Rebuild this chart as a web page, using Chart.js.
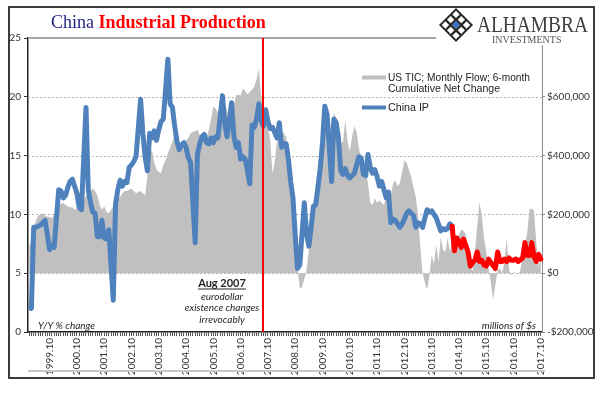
<!DOCTYPE html>
<html>
<head>
<meta charset="utf-8">
<script src="https://cdn.jsdelivr.net/npm/chart.js@4.4.1/dist/chart.umd.min.js"></script>
<style>
  html, body { margin: 0; padding: 0; background: #fff; }
  #wrap { width: 600px; height: 394px; }
</style>
</head>
<body>
<div id="wrap"><canvas id="myChart" width="600" height="394"></canvas></div>
<script>
// categories: monthly, 1999.01 .. 2017.10
const years = [1999, 2000, 2001, 2002, 2003, 2004, 2005, 2006, 2007, 2008, 2009, 2010, 2011, 2012, 2013, 2014, 2015, 2016, 2017];
const months = ['01', '02', '03', '04', '05', '06', '07', '08', '09', '10', '11', '12'];
const lastLabel = '2017.10';
const redFrom = '2014.07';   // China IP drawn in red from here on
const vlineAt = '2007.08';   // "Aug 2007" marker

// China industrial production, Y/Y % (left axis)
const chinaIP = [
  null, 2.0, 8.9, 8.9, 9.0, 9.1, 9.3, 9.5, 8.3, 7.0, 7.4, 7.2,
  null, 12.1, 12.0, 11.4, 11.6, 12.3, 12.8, 13.0, 12.4, 11.8, 10.6, 10.4,
  null, 19.1, 12.1, 11.0, 10.2, 10.1, 8.1, 8.1, 9.5, 8.0, 7.9, 8.7,
  null, 2.7, 10.9, 12.1, 12.9, 12.4, 12.8, 12.7, 14.0, 14.2, 14.5, 14.9,
  null, 19.8, 16.9, 14.9, 13.7, 16.9, 16.5, 17.1, 16.3, 17.2, 17.9, 18.1,
  null, 23.2, 19.4, 19.1, 17.5, 16.2, 15.5, 15.9, 16.1, 15.7, 14.8, 14.4,
  null, 7.6, 15.1, 16.0, 16.6, 16.8, 16.1, 16.0, 16.5, 16.1, 16.6, 16.5,
  null, 20.1, 17.8, 16.6, 17.9, 19.5, 16.7, 15.7, 16.1, 14.7, 14.9, 14.7,
  null, 12.6, 17.6, 17.4, 18.1, 19.4, 18.0, 17.5, 18.9, 17.9, 17.3, 17.4,
  null, 16.5, 17.8, 15.7, 16.0, 16.0, 14.7, 12.8, 11.4, 8.2, 5.4, 5.7,
  null, 11.0, 8.3, 7.3, 8.9, 10.7, 10.8, 12.3, 13.9, 16.1, 19.2, 18.5,
  null, 12.8, 18.1, 17.8, 16.5, 13.7, 13.4, 13.9, 13.3, 13.1, 13.3, 13.5,
  null, 14.9, 14.8, 13.4, 13.3, 15.1, 14.0, 13.5, 13.8, 13.2, 12.4, 12.8,
  null, 11.4, 11.9, 9.3, 9.6, 9.5, 9.2, 8.9, 9.2, 9.6, 10.1, 10.3,
  null, 9.9, 8.9, 9.3, 9.2, 8.9, 9.7, 10.4, 10.2, 10.3, 10.0, 9.7,
  null, 8.6, 8.8, 8.7, 8.8, 9.2, 9.0, 6.9, 8.0, 7.7, 7.2, 7.9,
  null, 6.8, 5.6, 5.9, 6.1, 6.8, 6.0, 6.1, 5.7, 5.6, 6.2, 5.9,
  null, 5.4, 6.8, 6.0, 6.0, 6.2, 6.0, 6.3, 6.1, 6.1, 6.2, 6.0,
  null, 6.3, 7.6, 6.5, 6.5, 7.6, 6.4, 6.0, 6.6, 6.2
];

// US TIC, monthly flow, 6-month cumulative net change, millions of $ (right axis)
const usTIC = [
  92000, 112000, 152000, 180000, 196000, 200000, 204000, 196000, 192000, 192000, 188000, 200000,
  216000, 228000, 236000, 240000, 232000, 228000, 224000, 224000, 216000, 220000, 216000, 224000,
  248000, 264000, 272000, 280000, 288000, 280000, 264000, 232000, 216000, 228000, 208000, 204000,
  216000, 228000, 240000, 252000, 260000, 272000, 280000, 280000, 284000, 288000, 280000, 272000,
  276000, 280000, 272000, 264000, 332000, 400000, 420000, 376000, 352000, 344000, 340000, 368000,
  384000, 408000, 428000, 448000, 468000, 456000, 432000, 420000, 440000, 452000, 460000, 476000,
  480000, 484000, 488000, 472000, 464000, 456000, 464000, 488000, 524000, 568000, 560000, 544000,
  572000, 580000, 576000, 552000, 520000, 516000, 568000, 604000, 608000, 604000, 628000, 620000,
  608000, 616000, 624000, 636000, 660000, 696000, 600000, 568000, 528000, 500000, 452000, 340000,
  380000, 452000, 476000, 484000, 476000, 464000, 400000, 340000, 240000, 120000, 20000, -52000,
  -48000, -20000, 12000, 80000, 160000, 232000, 300000, 360000, 416000, 472000, 500000, 512000,
  480000, 512000, 544000, 528000, 472000, 440000, 448000, 520000, 448000, 412000, 464000, 500000,
  480000, 424000, 396000, 376000, 352000, 304000, 240000, 232000, 256000, 240000, 248000, 240000,
  232000, 260000, 272000, 264000, 304000, 316000, 296000, 308000, 344000, 384000, 376000, 352000,
  328000, 292000, 260000, 200000, 88000, 0, -32000, -56000, -8000, 60000, 32000, 96000,
  40000, 124000, 80000, 72000, 120000, 72000, 124000, 116000, 104000, 132000, 148000, 144000,
  132000, 60000, 20000, 8000, 72000, 160000, 240000, 200000, 120000, 72000, 12000, -32000,
  -92000, -40000, 8000, 16000, 0, 40000, 120000, 12000, -8000, 4000, 0, -4000,
  12000, 60000, 100000, 136000, 216000, 220000, 212000, 100000, 24000, 48000
];

const leftTicks = [0, 5, 10, 15, 20, 25];
const rightTicks = [-200000, 0, 200000, 400000, 600000, 800000];

function myLoadFunction() {
  const labels = [];
  years.forEach(y => months.forEach(m => labels.push(y + '.' + m)));
  labels.length = labels.indexOf(lastLabel) + 1;

  const splitAt = labels.indexOf(redFrom);
  const blueIP = chinaIP.map((v, i) => i <= splitAt ? v : null);
  const redIP = chinaIP.map((v, i) => i >= splitAt ? v : null);

  Chart.defaults.font.family = 'Lato, "Liberation Sans", sans-serif';
  Chart.defaults.font.size = 10;
  Chart.defaults.color = '#333';

  const money = v => (v < 0 ? '-$' : '$') + Math.abs(v).toLocaleString('en-US');

  const extras = {
    id: 'extras',
    beforeDatasetsDraw(chart) {
      const ctx = chart.ctx, a = chart.chartArea, y = chart.scales.y;
      ctx.save();
      ctx.strokeStyle = '#b4b4b4';
      ctx.lineWidth = 1;
      ctx.setLineDash([2, 2]);
      leftTicks.filter(t => t > 0 && t < 25).forEach(t => {
        const py = Math.round(y.getPixelForValue(t)) + 0.5;
        ctx.beginPath(); ctx.moveTo(a.left, py); ctx.lineTo(a.right, py); ctx.stroke();
      });
      ctx.setLineDash([]);
      ctx.strokeStyle = '#a6a6a6';
      ctx.lineWidth = 2;
      const top = y.getPixelForValue(25);
      ctx.beginPath(); ctx.moveTo(a.left, top); ctx.lineTo(a.right, top); ctx.stroke();
      ctx.restore();
    },
    afterDatasetsDraw(chart) {
      const ctx = chart.ctx, a = chart.chartArea;
      const px = Math.round(chart.scales.x.getPixelForValue(labels.indexOf(vlineAt)));
      ctx.save();
      ctx.strokeStyle = '#ff0000';
      ctx.lineWidth = 2;
      ctx.beginPath(); ctx.moveTo(px, a.top); ctx.lineTo(px, a.bottom); ctx.stroke();
      ctx.restore();
    },
    afterDraw(chart) {
      const ctx = chart.ctx, a = chart.chartArea;
      ctx.save();

      // bottom rule and outer frame
      ctx.fillStyle = '#c8c8c8';
      ctx.fillRect(a.left, 370, a.right - a.left + 3, 2);
      ctx.strokeStyle = '#3c3c3c';
      ctx.lineWidth = 2;
      ctx.strokeRect(9, 7, 585, 371);

      // title
      ctx.textBaseline = 'alphabetic';
      ctx.textAlign = 'left';
      ctx.font = '18px "Liberation Serif", serif';
      ctx.fillStyle = '#1f1f85';
      ctx.fillText('China', 51, 28);
      const w = ctx.measureText('China ').width;
      ctx.font = 'bold 18px "Liberation Serif", serif';
      ctx.fillStyle = '#ff0000';
      ctx.fillText('Industrial Production', 51 + w, 28, 200);

      // logo
      ctx.fillStyle = '#ffffff';
      ctx.fillRect(436, 8, 157, 37);
      ctx.save();
      ctx.translate(456, 25);
      ctx.rotate(Math.PI / 4);
      ctx.fillStyle = '#262626';
      ctx.fillRect(-12, -12, 24, 24);
      ctx.fillStyle = '#ffffff';
      [-7.5, 0, 7.5].forEach(gx => [-7.5, 0, 7.5].forEach(gy => {
        ctx.fillRect(gx - 2.6, gy - 2.6, 5.2, 5.2);
      }));
      ctx.fillStyle = '#3d6fc4';
      ctx.fillRect(-2.8, -2.8, 5.6, 5.6);
      ctx.restore();
      ctx.fillStyle = '#3f3f3f';
      ctx.font = '24px "Liberation Serif", serif';
      ctx.fillText('ALHAMBRA', 477, 32, 111);
      ctx.fillStyle = '#555';
      ctx.font = '10px "Liberation Serif", serif';
      ctx.fillText('INVESTMENTS', 492, 42.5, 77);

      // legend
      ctx.fillStyle = '#bfbfbf';
      ctx.fillRect(362, 75.5, 24, 4);
      ctx.strokeStyle = '#4f81bd';
      ctx.lineWidth = 4;
      ctx.beginPath(); ctx.moveTo(362, 107.5); ctx.lineTo(386, 107.5); ctx.stroke();
      ctx.fillStyle = '#222';
      ctx.font = '11px "Liberation Sans", Arial, sans-serif';
      ctx.textBaseline = 'middle';
      ctx.fillText('US TIC; Monthly Flow; 6-month', 388, 77.5, 142);
      ctx.fillText('Cumulative Net Change', 388, 88.5, 112);
      ctx.fillText('China IP', 388, 107.5, 41);

      // annotations
      ctx.textBaseline = 'alphabetic';
      ctx.fillStyle = '#262626';
      ctx.textAlign = 'center';
      const cx = 222;
      ctx.font = 'bold 11px Lato, sans-serif';
      ctx.fillText('Aug 2007', cx, 287);
      const uw = ctx.measureText('Aug 2007').width;
      ctx.fillRect(cx - uw / 2, 288.5, uw, 1);
      ctx.font = 'italic 10px Lato, sans-serif';
      ctx.fillText('eurodollar', cx, 299.5);
      ctx.fillText('existence changes', cx, 311);
      ctx.fillText('irrevocably', cx, 322.5);
      ctx.textAlign = 'left';
      ctx.fillText('Y/Y % change', 38, 329);
      ctx.textAlign = 'right';
      ctx.fillText('millions of $s', 536, 329);

      ctx.restore();
    }
  };

  const ctx = document.getElementById('myChart').getContext('2d');
  const myChartConfig = {
    type: 'line',
    data: {
      labels: labels,
      datasets: [{
        label: 'US TIC; Monthly Flow; 6-month Cumulative Net Change',
        data: usTIC,
        yAxisID: 'y1',
        fill: 'origin',
        backgroundColor: '#c0c0c0',
        borderWidth: 0,
        pointRadius: 0,
        tension: 0,
        order: 3
      }, {
        label: 'China IP',
        data: blueIP,
        yAxisID: 'y',
        borderColor: '#4f81bd',
        borderWidth: 5,
        borderJoinStyle: 'round',
        borderCapStyle: 'round',
        pointRadius: 0,
        spanGaps: true,
        fill: false,
        order: 2
      }, {
        label: 'China IP (from Jul 2014)',
        data: redIP,
        yAxisID: 'y',
        borderColor: '#ff0000',
        borderWidth: 5,
        borderJoinStyle: 'round',
        borderCapStyle: 'round',
        pointRadius: 0,
        spanGaps: true,
        fill: false,
        order: 1
      }]
    },
    options: {
      responsive: false,
      animation: false,
      layout: { padding: { top: 38, left: 0, right: 0, bottom: 0 } },
      plugins: { legend: { display: false }, tooltip: { enabled: false } },
      scales: {
        x: {
          offset: true,
          grid: { drawOnChartArea: false, tickLength: 4, color: '#555' },
          border: { color: '#222', width: 1.5 },
          ticks: {
            autoSkip: false, minRotation: 90, maxRotation: 90, padding: 2,
            color: '#333',
            callback: (v, i) => labels[i].endsWith('.10') ? labels[i] : ''
          },
          afterFit: s => { s.height = 62; }
        },
        y: {
          position: 'left',
          min: 0, max: 25,
          grid: { drawOnChartArea: false, tickLength: 4, color: '#333' },
          border: { color: '#222', width: 1.5 },
          ticks: { stepSize: 5, padding: 3, color: '#333' },
          afterFit: s => { s.width = 28; }
        },
        y1: {
          position: 'right',
          min: -200000, max: 800000,
          grid: { drawOnChartArea: false, tickLength: 3, color: '#888' },
          border: { color: '#8c8c8c', width: 1 },
          ticks: {
            stepSize: 200000, padding: 2, color: '#333',
            callback: v => v === rightTicks[rightTicks.length - 1] ? '' : money(v)
          },
          afterFit: s => { s.width = 58; }
        }
      }
    },
    plugins: [extras]
  };

  const myChart = new Chart(ctx, myChartConfig);
}

document.addEventListener('DOMContentLoaded', myLoadFunction);
</script>
</body>
</html>
